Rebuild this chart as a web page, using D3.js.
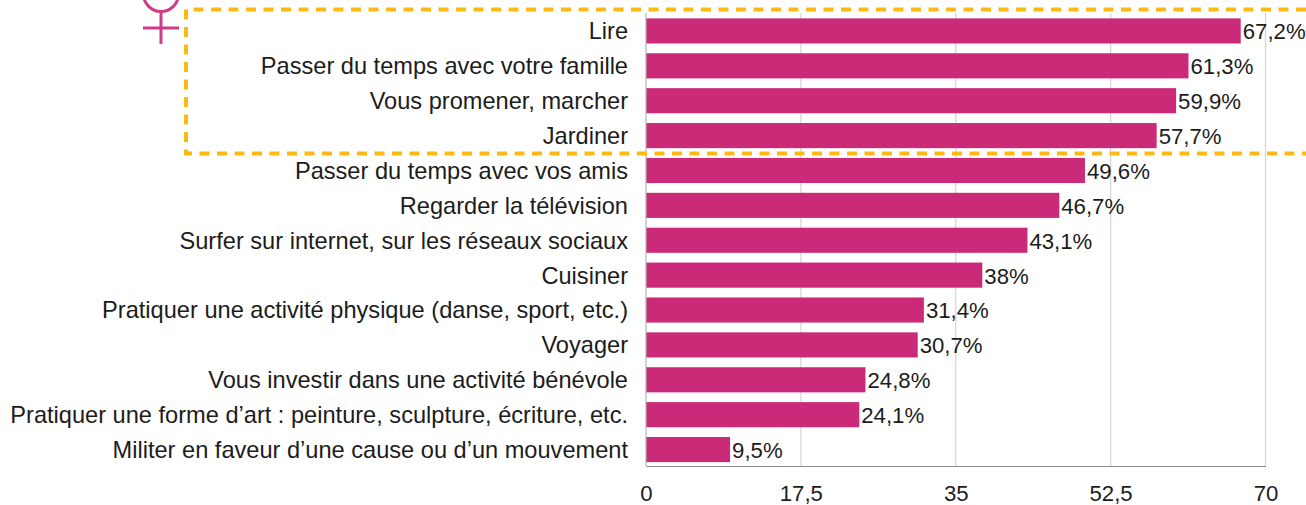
<!DOCTYPE html>
<html>
<head>
<meta charset="utf-8">
<script src="https://cdn.jsdelivr.net/npm/d3@7"></script>
<style>
  html, body { margin: 0; padding: 0; background: #fff; }
  svg { display: block; }
  text { font-family: "Liberation Sans", sans-serif; fill: #1c1c1c; }
</style>
</head>
<body>
<svg id="chart"></svg>
<script>
const activities = [
  "Lire",
  "Passer du temps avec votre famille",
  "Vous promener, marcher",
  "Jardiner",
  "Passer du temps avec vos amis",
  "Regarder la télévision",
  "Surfer sur internet, sur les réseaux sociaux",
  "Cuisiner",
  "Pratiquer une activité physique (danse, sport, etc.)",
  "Voyager",
  "Vous investir dans une activité bénévole",
  "Pratiquer une forme d’art : peinture, sculpture, écriture, etc.",
  "Militer en faveur d’une cause ou d’un mouvement"
];
const values = [67.2, 61.3, 59.9, 57.7, 49.6, 46.7, 43.1, 38, 31.4, 30.7, 24.8, 24.1, 9.5];
const ticks = [0, 17.5, 35, 52.5, 70];

const width = 1306, height = 505;
const fr = v => String(v).replace(".", ",");

const svg = d3.select("#chart").attr("width", width).attr("height", height);

const x = d3.scaleLinear().domain([0, 70]).range([646, 1265.5]);
const y = d3.scaleBand().domain(activities).range([13.5, 467]).paddingInner(0.28).paddingOuter(0.14);

// grid
svg.append("g").selectAll("line")
  .data(ticks.slice(1))
  .enter().append("line")
    .attr("x1", d => x(d)).attr("x2", d => x(d))
    .attr("y1", 13).attr("y2", 466)
    .attr("stroke", "#d4d4d4")
    .attr("stroke-width", 1.2);

// bars
svg.append("g").selectAll("rect")
  .data(activities)
  .enter().append("rect")
    .attr("x", x(0))
    .attr("y", d => y(d))
    .attr("width", (d, i) => x(values[i]) - x(0))
    .attr("height", y.bandwidth())
    .attr("fill", "#cb2a78");

// axis
const axis = svg.append("g")
  .attr("transform", "translate(0,466)")
  .call(d3.axisBottom(x).tickValues(ticks).tickSize(0).tickPadding(19).tickFormat(fr));
axis.select(".domain").attr("stroke", "#8a8a8a").attr("stroke-width", 1.2);
axis.selectAll("text").style("font-family", '"Liberation Sans", sans-serif').style("font-size", "22.2px").attr("fill", "#1c1c1c");

svg.append("line")
  .attr("x1", x(0)).attr("x2", x(0))
  .attr("y1", 13).attr("y2", 466)
  .attr("stroke", "#b4b4b4").attr("stroke-width", 1.2);

// category labels
svg.append("g").selectAll("text")
  .data(activities)
  .enter().append("text")
    .attr("x", 628)
    .attr("y", d => y(d) + y.bandwidth() / 2 + 0.6)
    .attr("dy", "0.33em")
    .attr("text-anchor", "end")
    .style("font-size", "23.6px")
    .text(d => d);

// value labels
svg.append("g").selectAll("text")
  .data(activities)
  .enter().append("text")
    .attr("x", (d, i) => x(values[i]) + 2)
    .attr("y", d => y(d) + y.bandwidth() / 2)
    .attr("dy", "0.38em")
    .style("font-size", "22.2px")
    .text((d, i) => fr(values[i]) + "%");

// dashed frame around the first four
svg.append("path")
  .attr("d", d3.line()([[1306, 9.5], [186, 9.5], [186, 153.5], [1306, 153.5]]))
  .attr("fill", "none")
  .attr("stroke", "#fdb913")
  .attr("stroke-width", 4)
  .attr("stroke-dasharray", "10 7.5");

// venus sign, cut by the top of the picture
const venus = svg.append("g").attr("fill", "none").attr("stroke", "#cb3d86").attr("stroke-width", 3);
venus.append("circle").attr("cx", 161).attr("cy", -6).attr("r", 17.5);
venus.append("path").attr("d", "M161 11V44M143 28H179");
</script>
</body>
</html>
